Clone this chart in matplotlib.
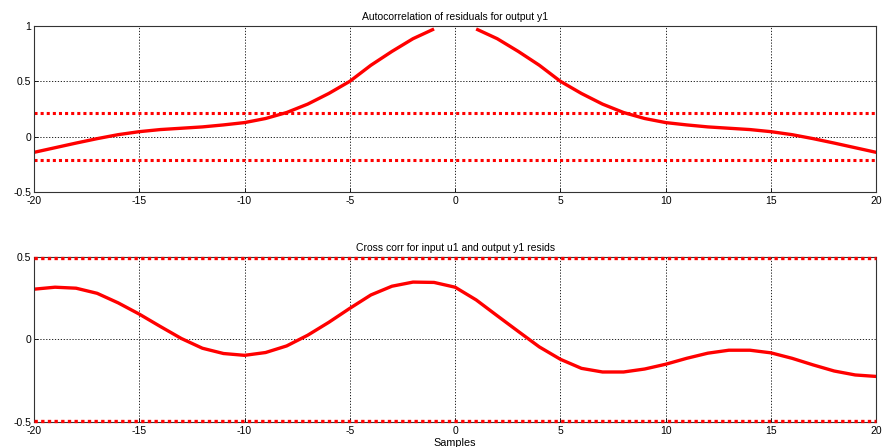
import numpy as np
import matplotlib
matplotlib.use("Agg")
import matplotlib.pyplot as plt

plt.rcParams['font.family'] = ['Liberation Sans', 'DejaVu Sans']
plt.rcParams['font.size'] = 7.5
plt.rcParams['axes.unicode_minus'] = False

# Autocorrelation of residuals (lags 1..20, symmetric)
ac_lags_pos = list(range(1, 21))
ac_vals_pos = [0.973, 0.885, 0.77, 0.645, 0.50, 0.39, 0.294, 0.218, 0.164, 0.127,
               0.106, 0.088, 0.076, 0.064, 0.045, 0.018, -0.018, -0.058, -0.10, -0.142]
ac_conf = 0.21

# Cross correlation lags -20..20
cc_lags = list(range(-20, 21))
cc_vals = [0.305, 0.317, 0.311, 0.28, 0.222, 0.154, 0.079, 0.006, -0.053, -0.085,
           -0.096, -0.079, -0.039, 0.026, 0.104, 0.189, 0.27, 0.323, 0.348, 0.346,
           0.317, 0.24, 0.144, 0.049, -0.045, -0.12, -0.175, -0.197, -0.197, -0.179,
           -0.15, -0.114, -0.083, -0.065, -0.065, -0.081, -0.114, -0.154, -0.191, -0.215,
           -0.224]
cc_conf = 0.495

red = '#ff0000'
xr = [-20, 20]

fig = plt.figure(figsize=(8.82, 4.47), dpi=100)
ax1 = fig.add_axes([0.0385, 0.5705, 0.955, 0.3714])
ax2 = fig.add_axes([0.0385, 0.056, 0.955, 0.369])

# top
neg_lags = [-l for l in ac_lags_pos[::-1]]
neg_vals = ac_vals_pos[::-1]
ax1.plot(neg_lags, neg_vals, color=red, lw=2.4, solid_capstyle='butt')
ax1.plot(ac_lags_pos, ac_vals_pos, color=red, lw=2.4, solid_capstyle='butt')
ax1.plot(xr, [ac_conf, ac_conf], color=red, lw=2.2, ls=(0, (1, 1)))
ax1.plot(xr, [-ac_conf, -ac_conf], color=red, lw=2.2, ls=(0, (1, 1)))
ax1.set_xlim(-20, 20)
ax1.set_ylim(-0.5, 1)
ax1.set_yticks([-0.5, 0, 0.5, 1])
ax1.set_yticklabels(['-0.5', '0', '0.5', '1'])
ax1.set_title('Autocorrelation of residuals for output y1', fontsize=7.5, pad=4)

# bottom
ax2.plot(cc_lags, cc_vals, color=red, lw=2.4)
ax2.plot(xr, [cc_conf, cc_conf], color=red, lw=2.4, ls=(0, (1, 1)), clip_on=False, zorder=5)
ax2.plot(xr, [-cc_conf, -cc_conf], color=red, lw=2.4, ls=(0, (1, 1)), clip_on=False, zorder=5)
ax2.set_xlim(-20, 20)
ax2.set_ylim(-0.5, 0.5)
ax2.set_yticks([-0.5, 0, 0.5])
ax2.set_yticklabels(['-0.5', '0', '0.5'])
ax2.set_title('Cross corr for input u1 and output y1 resids', fontsize=7.5, pad=4)
ax2.set_xlabel('Samples', fontsize=7.8, labelpad=1)

for ax in (ax1, ax2):
    ax.set_xticks([-20, -15, -10, -5, 0, 5, 10, 15, 20])
    ax.grid(True, color='black', ls=(0, (1.5, 2)), lw=0.6)
    ax.tick_params(direction='in', length=3, pad=2, labelsize=7.5, width=0.6)
    ax.tick_params(axis='x', pad=3)
    for s in ax.spines.values():
        s.set_linewidth(0.8)
        s.set_color('#333333')
    ax.set_axisbelow(True)

fig.savefig('out.png', dpi=100)
